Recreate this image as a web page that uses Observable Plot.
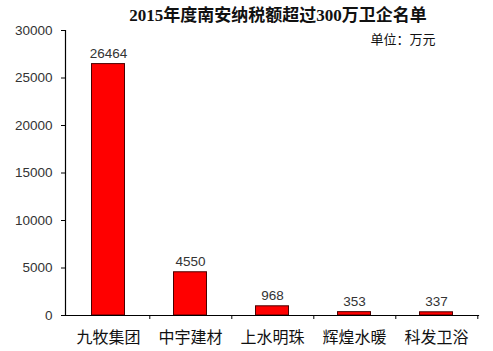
<!DOCTYPE html>
<html><head><meta charset="utf-8">
<script src="https://cdn.jsdelivr.net/npm/d3@7"></script>
<script src="https://cdn.jsdelivr.net/npm/@observablehq/plot@0.6"></script>
<style>body{margin:0;background:#fff}</style>
</head><body><div id="chart"></div>
<script>
const categories = ["九牧集团", "中宇建材", "上水明珠", "辉煌水暖", "科发卫浴"];
const values = [26464, 4550, 968, 353, 337];
const yTicks = [0, 5000, 10000, 15000, 20000, 25000, 30000];
const title = "2015年度南安纳税额超过300万卫企名单";
const unit = "单位：万元";

const data = categories.map((c, i) => ({name: c, value: values[i]}));
const numFont = "Liberation Sans";

const chart = Plot.plot({
  width: 493, height: 351,
  marginTop: 30, marginBottom: 36, marginLeft: 65, marginRight: 15,
  style: {background: "#fff", color: "#000"},
  x: {type: "band", domain: categories, padding: 0},
  y: {domain: [0, 30000]},
  marks: [
    Plot.axisY({ticks: yTicks, tickSize: 4, tickPadding: 9, label: null,
      tickFormat: d => String(d), fontSize: 13.5, fontFamily: numFont, fill: "#333"}),
    Plot.axisX({tickSize: 0, tickPadding: 16, label: null, fontSize: 16,
      fontFamily: "Noto Sans CJK SC", fill: "#111"}),
    Plot.barY(data, {x: "name", y: "value", fill: "#ff0000", stroke: "#4a0000",
      strokeWidth: 1, insetLeft: 24.5, insetRight: 24.5}),
    Plot.ruleX(categories, {x: d => d, y1: 0, y2: 0, dx: 41.3, insetBottom: -4, insetTop: 0, stroke: "#000"}),
    Plot.frame({anchor: "left", stroke: "#000", strokeWidth: 1.2}),
    Plot.frame({anchor: "bottom", stroke: "#000", strokeWidth: 1.2}),
    Plot.text(data, {x: "name", y: "value", text: d => String(d.value), dy: -6,
      lineAnchor: "bottom", fontSize: 13.5, fontFamily: numFont, fill: "#333"}),
    Plot.text([title], {frameAnchor: "top", text: d => d, dy: -15, dx: 6, lineAnchor: "middle",
      fontSize: 17, fontWeight: "bold", fontFamily: "'Liberation Serif', 'Noto Sans CJK SC'", fill: "#111"}),
    Plot.text([unit], {frameAnchor: "top-right", text: d => d, dy: 9, dx: -43, lineAnchor: "middle",
      fontSize: 13, fontFamily: "Noto Sans CJK SC", fill: "#111"})
  ]
});
document.getElementById("chart").append(chart);
</script>
</body></html>
